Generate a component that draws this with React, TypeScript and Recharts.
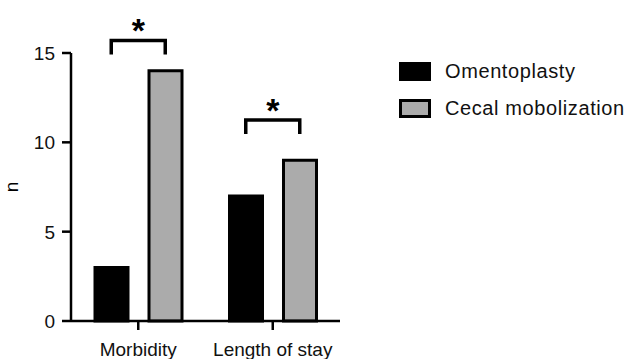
import { BarChart, Bar, XAxis, YAxis, Legend, ReferenceLine } from 'recharts';

const categories = ['Morbidity', 'Length of stay'];
const seriesNames = ['Omentoplasty', 'Cecal mobolization'];
const omentoplasty = [3, 7];
const cecalMobolization = [14, 9];
const bracketLevels = [15.7, 11.25];
const bracketMarks = ['*', '*'];
const yTicks = [0, 5, 10, 15];

const data = categories.map((name, i) => ({
    name,
    omentoplasty: omentoplasty[i],
    cecal: cecalMobolization[i],
}));

const FONT = '"Liberation Sans", Arial, Helvetica, sans-serif';
const GRAY = '#ababab';
const BAR_SIZE = 33;
const BAR_GAP = 21;

function Bracket(props: any) {
    const { x1, y1, mark } = props;
    const half = (BAR_SIZE + BAR_GAP) / 2;
    const drop = 14;
    return (
        <g>
            <path
                d={`M${x1 - half},${y1 + drop} L${x1 - half},${y1} L${x1 + half},${y1} L${x1 + half},${y1 + drop}`}
                fill="none"
                stroke="#000"
                strokeWidth={3.5}
            />
            <text x={x1} y={y1 + 2} textAnchor="middle" fontFamily={FONT} fontWeight="bold" fontSize={34} fill="#000">
                {mark}
            </text>
        </g>
    );
}

function XTick(props: any) {
    const { x, y, payload } = props;
    return (
        <text x={x} y={y} dy={16} textAnchor="middle" fontFamily={FONT} fontSize={19} fill="#111">
            {payload.value}
        </text>
    );
}

function YTick(props: any) {
    const { x, y, payload } = props;
    return (
        <text x={x} y={y} dy={7} textAnchor="end" fontFamily={FONT} fontSize={19} fill="#111">
            {payload.value}
        </text>
    );
}

function renderLegend(props: any) {
    const { payload } = props;
    return (
        <div style={{ fontFamily: FONT, fontSize: 20, letterSpacing: 0.6, color: '#111' }}>
            {payload.map((entry: any) => (
                <div key={entry.value} style={{ display: 'flex', alignItems: 'center', height: 19, marginBottom: 18 }}>
                    <div
                        style={{
                            width: 32,
                            height: 19,
                            boxSizing: 'border-box',
                            background: entry.color,
                            border: '3px solid #000',
                        }}
                    />
                    <span style={{ marginLeft: 14, whiteSpace: 'nowrap' }}>{entry.value}</span>
                </div>
            ))}
        </div>
    );
}

function AxisTitle(props: any) {
    const { viewBox } = props;
    const cy = viewBox.y + viewBox.height / 2;
    return (
        <text x={18} y={cy} transform={`rotate(-90, 18, ${cy})`} textAnchor="middle" fontFamily={FONT} fontSize={19} fill="#000">
            n
        </text>
    );
}

export default function App() {
    return (
        <div style={{ position: 'absolute', left: 0, top: 0, background: '#fff' }}>
            <BarChart
                width={630}
                height={359}
                data={data}
                margin={{ top: 53, right: 290, bottom: 0, left: 0 }}
                barSize={BAR_SIZE}
                barGap={BAR_GAP}
            >
                <XAxis
                    dataKey="name"
                    height={38}
                    interval={0}
                    axisLine={{ stroke: '#000', strokeWidth: 2.5 }}
                    tickLine={{ stroke: '#000', strokeWidth: 2.5 }}
                    tickSize={9}
                    tickMargin={10}
                    tick={<XTick />}
                />
                <YAxis
                    width={71}
                    domain={[0, 15]}
                    ticks={yTicks}
                    axisLine={{ stroke: '#000', strokeWidth: 2.5 }}
                    tickLine={{ stroke: '#000', strokeWidth: 2.5 }}
                    tickSize={9}
                    tickMargin={7}
                    tick={<YTick />}
                    label={<AxisTitle />}
                />
                <Legend
                    layout="horizontal"
                    verticalAlign="middle"
                    align="center"
                    content={renderLegend}
                    itemSorter={(item: any) => seriesNames.indexOf(item.value)}
                    wrapperStyle={{ left: 399, top: 62, width: 231, height: 80 }}
                />
                <Bar dataKey="omentoplasty" name={seriesNames[0]} fill="#000" stroke="#000" strokeWidth={3} isAnimationActive={false} />
                <Bar dataKey="cecal" name={seriesNames[1]} fill={GRAY} stroke="#000" strokeWidth={3} isAnimationActive={false} />
                {categories.map((cat, i) => (
                    <ReferenceLine
                        key={cat}
                        segment={[
                            { x: cat, y: bracketLevels[i] },
                            { x: cat, y: bracketLevels[i] },
                        ]}
                        ifOverflow="visible"
                        shape={(p: any) => <Bracket {...p} mark={bracketMarks[i]} />}
                    />
                ))}
            </BarChart>
        </div>
    );
}
